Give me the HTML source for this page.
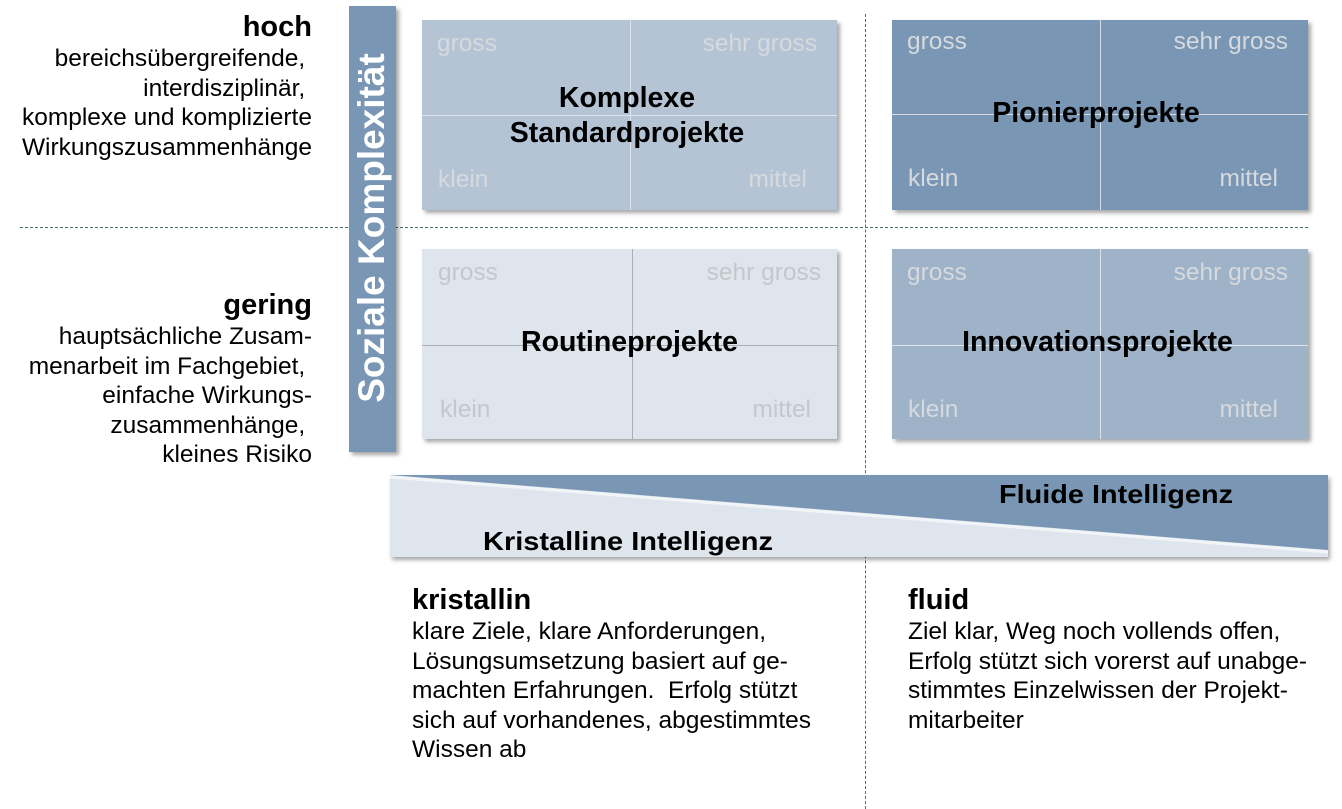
<!DOCTYPE html>
<html><head><meta charset="utf-8"><style>
body{margin:0;width:1342px;height:809px;background:#fff;position:relative;overflow:hidden;font-family:"Liberation Sans",Arial,sans-serif}
.a{position:absolute}
.box{position:absolute;box-shadow:3px 3px 4px rgba(0,0,0,.35)}
.vl{position:absolute;width:1px;top:0;bottom:0}
.hl{position:absolute;height:1px;left:0;right:0}
.c{position:absolute;font-size:24.5px;color:#d6d9dd;line-height:28px;white-space:nowrap}
.t{position:absolute;left:0;right:0;text-align:center;font-weight:bold;font-size:28.5px;line-height:35px;color:#000;white-space:nowrap}
.lt{position:absolute;right:1030px;text-align:right;font-size:24.5px;line-height:29.5px;color:#000;white-space:pre}
.lt b{font-size:29px;display:block;line-height:34px}
.bt{position:absolute;font-size:24.5px;line-height:29.5px;color:#000;white-space:pre}
.bt b{font-size:29px;display:block;line-height:34px}
</style></head><body>
<div class="a" style="left:20px;top:227px;width:1288px;border-top:1px dashed #4a706c"></div>
<div class="a" style="left:865px;top:14px;height:795px;border-left:1px dashed #4a706c"></div>

<div class="box" style="left:349px;top:6px;width:47px;height:446px;background:#7997b4"></div>
<div class="a" style="left:372px;top:228px;width:0;height:0"><div style="position:absolute;left:-250px;top:-22px;width:500px;text-align:center;transform:rotate(-90deg);color:#fff;font-weight:bold;font-size:37px;line-height:44px;white-space:nowrap">Soziale Komplexität</div></div>

<div class="box" style="left:422px;top:20px;width:415px;height:190px;background:#b4c4d5">
<div class="vl" style="left:208px;background:#dde3ea"></div><div class="hl" style="top:95px;background:#dde3ea"></div>
<div class="c" style="left:15px;top:10px">gross</div><div class="c" style="right:20px;top:10px">sehr gross</div>
<div class="c" style="left:16px;top:146px">klein</div><div class="c" style="right:30px;top:146px">mittel</div>
<div class="t" style="top:61px;left:-5px">Komplexe<br>Standardprojekte</div></div>
<div class="box" style="left:892px;top:20px;width:416px;height:190px;background:#7997b4">
<div class="vl" style="left:208px;background:#d6dce3"></div><div class="hl" style="top:94px;background:#d6dce3"></div>
<div class="c" style="left:15px;top:8px">gross</div><div class="c" style="right:20px;top:8px">sehr gross</div>
<div class="c" style="left:16px;top:145px">klein</div><div class="c" style="right:30px;top:145px">mittel</div>
<div class="t" style="top:76px;left:-8px">Pionierprojekte</div></div>
<div class="box" style="left:422px;top:249px;width:415px;height:190px;background:#dfe5ed">
<div class="vl" style="left:210px;background:#a8aeb4"></div><div class="hl" style="top:96px;background:#a8aeb4"></div>
<div class="c" style="left:16px;top:10px;color:#c4c7cb">gross</div><div class="c" style="right:16px;top:10px;color:#c4c7cb">sehr gross</div>
<div class="c" style="left:18px;top:147px;color:#c4c7cb">klein</div><div class="c" style="right:26px;top:147px;color:#c4c7cb">mittel</div>
<div class="t" style="top:76px;left:0">Routineprojekte</div></div>
<div class="box" style="left:892px;top:249px;width:416px;height:190px;background:#9eb2c8">
<div class="vl" style="left:208px;background:#dde3ea"></div><div class="hl" style="top:96px;background:#dde3ea"></div>
<div class="c" style="left:15px;top:10px">gross</div><div class="c" style="right:20px;top:10px">sehr gross</div>
<div class="c" style="left:16px;top:147px">klein</div><div class="c" style="right:30px;top:147px">mittel</div>
<div class="t" style="top:76px;left:-5px">Innovationsprojekte</div></div>

<svg class="a" style="left:385px;top:470px" width="957" height="100">
<defs><filter id="s" x="-5%" y="-20%" width="110%" height="150%"><feDropShadow dx="2" dy="3" stdDeviation="2" flood-opacity=".35"/></filter></defs>
<polygon points="5,5 943,5 943,87 5,87" fill="#dfe5ed" filter="url(#s)"/>
<polygon points="5,5 943,5 943,80" fill="#7997b4"/>
<polyline points="5,7 943,82" stroke="#fff" stroke-width="3" opacity=".6" fill="none"/>
<text x="243" y="80" font-family="Liberation Sans, Arial, sans-serif" font-weight="bold" font-size="26" text-anchor="middle" fill="#000" textLength="290" lengthAdjust="spacingAndGlyphs">Kristalline Intelligenz</text>
<text x="731" y="33" font-family="Liberation Sans, Arial, sans-serif" font-weight="bold" font-size="26" text-anchor="middle" fill="#000" textLength="234" lengthAdjust="spacingAndGlyphs">Fluide Intelligenz</text>
</svg>

<div class="lt" style="top:10px"><b>hoch</b>bereichsübergreifende, 
interdisziplinär, 
komplexe und komplizierte
Wirkungszusammenhänge</div>
<div class="lt" style="top:288px"><b>gering</b>hauptsächliche Zusam-
menarbeit im Fachgebiet, 
einfache Wirkungs-
zusammenhänge, 
kleines Risiko</div>

<div class="bt" style="left:412px;top:583px"><b>kristallin</b>klare Ziele, klare Anforderungen,
Lösungsumsetzung basiert auf ge-
machten Erfahrungen.  Erfolg stützt
sich auf vorhandenes, abgestimmtes
Wissen ab</div>
<div class="bt" style="left:908px;top:583px"><b>fluid</b>Ziel klar, Weg noch vollends offen,
Erfolg stützt sich vorerst auf unabge-
stimmtes Einzelwissen der Projekt-
mitarbeiter</div>
</body></html>
